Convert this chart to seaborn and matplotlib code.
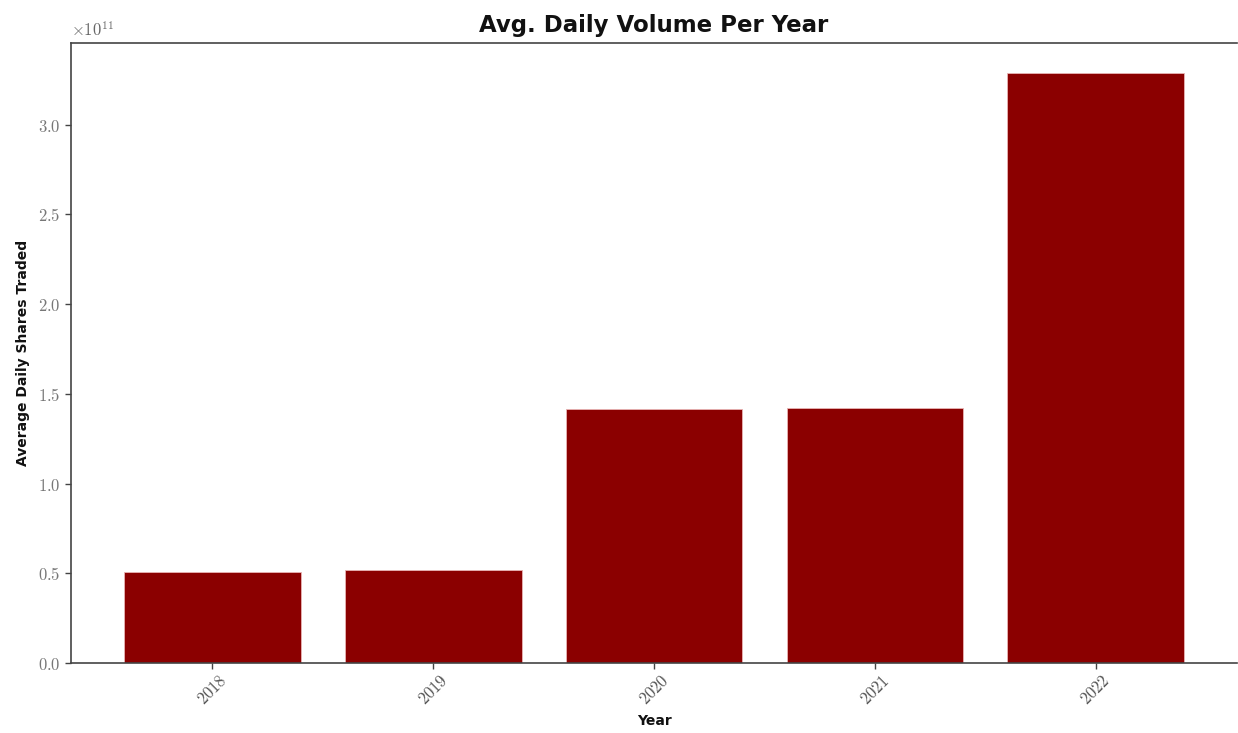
import matplotlib
matplotlib.use("Agg")
import matplotlib.pyplot as plt
import seaborn as sns
import pandas as pd
from matplotlib.ticker import FuncFormatter, MultipleLocator

# Average daily traded volume (shares) per year
years = ["2018", "2019", "2020", "2021", "2022"]
avg_volume = [0.505e11, 0.516e11, 1.414e11, 1.423e11, 3.290e11]

df = pd.DataFrame({"Year": years, "Volume": avg_volume})

sns.set_theme(style="white")
plt.rcParams["mathtext.fontset"] = "cm"
plt.rcParams["font.family"] = ["DejaVu Sans"]

fig = plt.figure(figsize=(12.38, 7.33), dpi=100)
ax = fig.add_axes([71 / 1238, 70 / 733, 1166 / 1238, 620 / 733])

sns.barplot(data=df, x="Year", y="Volume", color="#8B0000", saturation=1,
            width=0.8, edgecolor="#e8b4b4", linewidth=0.6, ax=ax)

n = len(years)
ax.set_xlim(-0.4 - 0.05 * (n - 0.2), n - 0.6 + 0.05 * (n - 0.2))
ax.set_ylim(0, max(avg_volume) * 1.05)

scale = 1e11
ax.yaxis.set_major_locator(MultipleLocator(0.5 * scale))
ax.yaxis.set_major_formatter(FuncFormatter(lambda v, p: r"$\mathrm{%.1f}$" % (v / scale)))
ax.set_xticks(range(n))
ax.set_xticklabels([r"$\mathrm{%s}$" % y for y in years], rotation=45)
for lbl in ax.get_xticklabels():
    lbl.set_color("#555555")
ax.text(0, 1.005, r"$\times\mathrm{10}^{\mathrm{11}}$", transform=ax.transAxes,
        fontsize=12, color="#666666", ha="left", va="bottom")

for side in ["left", "bottom", "top"]:
    ax.spines[side].set_color("#444444")
    ax.spines[side].set_linewidth(1.2)
ax.spines["right"].set_visible(False)

ax.tick_params(axis="both", which="major", direction="out", length=4, width=1,
               color="#444444", labelsize=12,
               bottom=True, left=True, top=False, right=False)
ax.tick_params(axis="y", labelcolor="#777777")
ax.tick_params(axis="x", labelcolor="#555555", pad=2)

ax.set_title("Avg. Daily Volume Per Year", fontsize=16.5, fontweight="bold",
             color="#111111", pad=8)
ax.set_xlabel("Year", fontsize=10, fontweight="bold", color="#111111", labelpad=4)
ax.set_ylabel("Average Daily Shares Traded", fontsize=10, fontweight="bold",
              color="#111111", labelpad=6)

fig.savefig("out.png", dpi=100)
